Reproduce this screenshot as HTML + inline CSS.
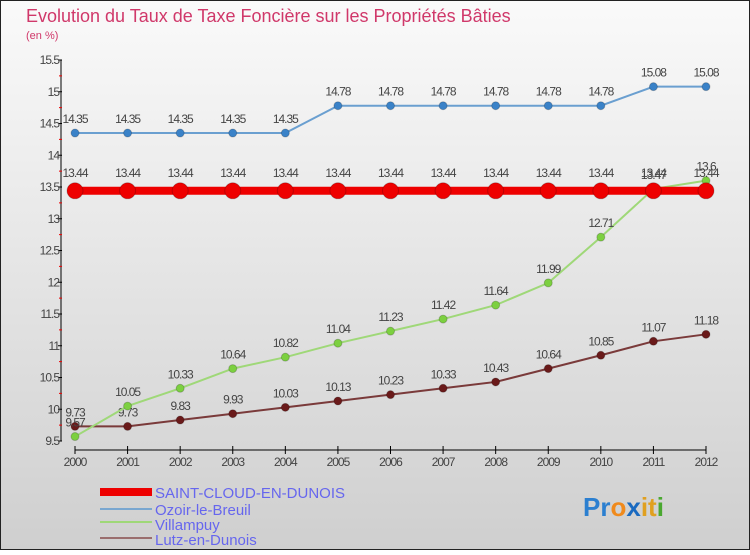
<!DOCTYPE html>
<html><head><meta charset="utf-8"><style>
body{margin:0;width:750px;height:550px;overflow:hidden;font-family:"Liberation Sans",sans-serif}
</style></head><body>
<svg width="750" height="550" xmlns="http://www.w3.org/2000/svg">
<defs><linearGradient id="bg" x1="0" y1="0" x2="0" y2="1"><stop offset="0" stop-color="#fafafa"/><stop offset="1" stop-color="#cfcfcf"/></linearGradient></defs>
<rect x="0.5" y="0.5" width="749" height="549" fill="url(#bg)" stroke="#222"/>
<text x="26" y="22" font-size="18" fill="#d0386a">Evolution du Taux de Taxe Foncière sur les Propriétés Bâties</text>
<text x="26" y="39" font-size="11" fill="#d0386a">(en %)</text>
<g id="axes"></g><g id="series"></g>
<g>
<rect x="100" y="488" width="52" height="8" fill="#e00"/>
<text x="155" y="498" font-size="15" fill="#6666ee">SAINT-CLOUD-EN-DUNOIS</text>
<line x1="100" y1="509" x2="152" y2="509" stroke="#7aa7d0" stroke-width="2"/>
<text x="155" y="515" font-size="15" fill="#6666ee">Ozoir-le-Breuil</text>
<line x1="100" y1="522" x2="152" y2="522" stroke="#9fd878" stroke-width="2"/>
<text x="155" y="530" font-size="15" fill="#6666ee">Villampuy</text>
<line x1="100" y1="538" x2="152" y2="538" stroke="#9a6e6e" stroke-width="2"/>
<text x="155" y="545" font-size="15" fill="#6666ee">Lutz-en-Dunois</text>
</g>
<text x="583" y="516" font-size="26" font-weight="bold"><tspan fill="#2b7fd0">Pr</tspan><tspan fill="#f08a1c">o</tspan><tspan fill="#1a6ac0">x</tspan><tspan fill="#e0a020">it</tspan><tspan fill="#4aa830">i</tspan></text>
</svg>
<script>
const years=[2000,2001,2002,2003,2004,2005,2006,2007,2008,2009,2010,2011,2012];
const saintCloud=[13.44,13.44,13.44,13.44,13.44,13.44,13.44,13.44,13.44,13.44,13.44,13.44,13.44];
const ozoir=[14.35,14.35,14.35,14.35,14.35,14.78,14.78,14.78,14.78,14.78,14.78,15.08,15.08];
const villampuy=[9.57,10.05,10.33,10.64,10.82,11.04,11.23,11.42,11.64,11.99,12.71,13.47,13.6];
const lutz=[9.73,9.73,9.83,9.93,10.03,10.13,10.23,10.33,10.43,10.64,10.85,11.07,11.18];
const yTicks=[9.5,10,10.5,11,11.5,12,12.5,13,13.5,14,14.5,15,15.5];
const NS="http://www.w3.org/2000/svg";
const X=i=>75+i*(706-75)/(years.length-1);
const Y=v=>441-(v-9.5)*(441-60)/6;
function mk(t,a,p){const e=document.createElementNS(NS,t);for(const k in a)e.setAttribute(k,a[k]);p.appendChild(e);return e;}
const ax=document.getElementById('axes');
let l=mk('line',{x1:61,y1:Y(15.5),x2:61,y2:Y(9.5),stroke:'#000'},ax);


yTicks.forEach(v=>{
 mk('line',{x1:58,y1:Y(v),x2:62,y2:Y(v),stroke:'#000'},ax);
 if(v<15.5){const m=mk('line',{x1:59,y1:Y(v+0.25),x2:62,y2:Y(v+0.25),stroke:'#e00'},ax);}
 const t=mk('text',{x:59,y:Y(v)+4,'font-size':12,fill:'#444','text-anchor':'end','letter-spacing':'-1'},ax);
 t.textContent=String(v);
 
 
});
l=mk('line',{x1:X(0),y1:450,x2:X(12),y2:450,stroke:'#000'},ax);


years.forEach((y,i)=>{
 mk('line',{x1:X(i),y1:446,x2:X(i),y2:454,stroke:'#000'},ax);
 const t=mk('text',{x:X(i),y:466,'font-size':12,fill:'#444','text-anchor':'middle','letter-spacing':'-1'},ax);
 t.textContent=y;
 
 
});
const sg=document.getElementById('series');
function series(vals,name,color,dot,w,r,lblOff){
 const g=mk('g',{},sg);
 
 
 mk('polyline',{points:vals.map((v,i)=>X(i)+','+Y(v)).join(' '),fill:'none',stroke:color,'stroke-width':w},g);
 vals.forEach((v,i)=>{
  const c=mk('circle',{cx:X(i),cy:Y(v),r:r,fill:dot,stroke:'#0003'},g);
  
  
  const t=mk('text',{x:X(i),y:Y(v)+lblOff,'font-size':12,fill:'#444','text-anchor':'middle','letter-spacing':'-1'},g);
  t.textContent=String(v);
  
  
 });
}
series(lutz,'lutz','#7a3a3a','#6a1a1a',2,4,-10);
series(villampuy,'villampuy','#9fd878','#7cd040',2,4,-10);
series(ozoir,'ozoir','#6a9fd0','#3a82c8',2,4,-10);
series(saintCloud,'saint-cloud','#e00','#e00',8,8,-14);
</script>
</body></html>
